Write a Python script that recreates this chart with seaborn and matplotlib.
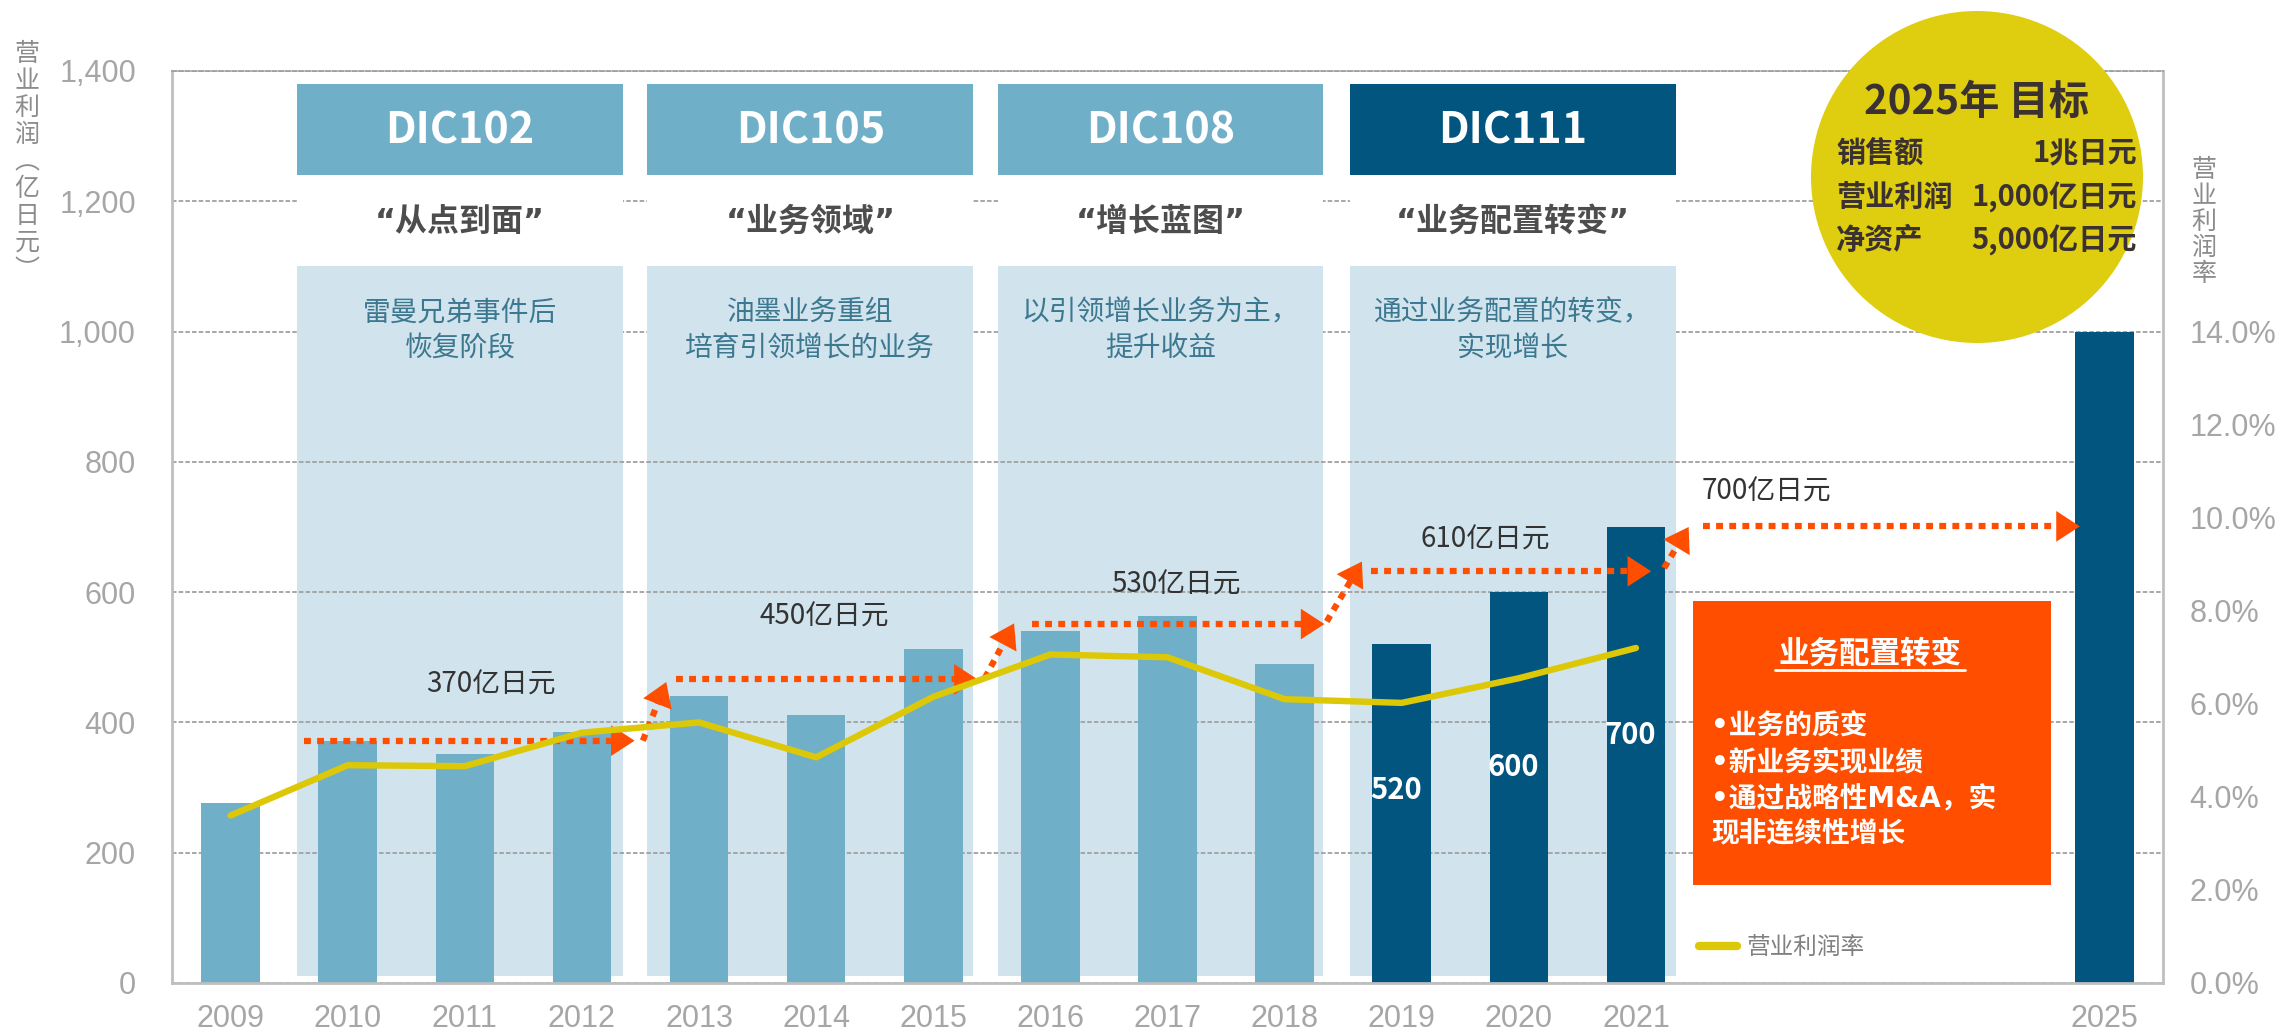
import pandas as pd
import seaborn as sns
import matplotlib.pyplot as plt
from matplotlib.patches import Rectangle, Ellipse
from matplotlib.lines import Line2D

# data
years = [2009, 2010, 2011, 2012, 2013, 2014, 2015, 2016, 2017, 2018, 2019, 2020, 2021, 2025]
profit = [277, 372, 351, 385, 441, 412, 512, 541, 564, 490, 520, 600, 700, 1000]
phase = ['past'] * 10 + ['new'] * 4

rate_years = [2009, 2010, 2011, 2012, 2013, 2014, 2015, 2016, 2017, 2018, 2019, 2020, 2021]
rate = [3.6, 4.68, 4.66, 5.38, 5.6, 4.85, 6.15, 7.06, 7.0, 6.1, 6.02, 6.55, 7.2]

label_years = [2019, 2020, 2021]
label_y = [296, 331, 380]

plan_names = ['DIC102', 'DIC105', 'DIC108', 'DIC111']
plan_quotes = ['“从点到面”', '“业务领域”', '“增长蓝图”', '“业务配置转变”']
plan_notes = ['雷曼兄弟事件后\n恢复阶段', '油墨业务重组\n培育引领增长的业务',
              '以引领增长业务为主，\n提升收益', '通过业务配置的转变，\n实现增长']
plan_left = [2009.57, 2012.56, 2015.55, 2018.56]
plan_width = 2.78

step_x0 = [2009.63, 2012.80, 2015.84, 2018.74, 2021.57]
step_x1 = [2012.45, 2015.38, 2018.34, 2021.13, 2024.79]
step_y = [372, 466, 551, 632, 701]
step_text = ['370亿日元', '450亿日元', '530亿日元', '610亿日元', '700亿日元']
step_text_x = [2011.22, 2014.07, 2017.07, 2019.71, 2022.11]
step_text_y = [458, 563, 612, 681, 755]
jump_x0 = [2012.52, 2015.44, 2018.36, 2021.24]
jump_y0 = [372, 468, 555, 637]
jump_x1 = [2012.72, 2015.69, 2018.66, 2021.45]
jump_y1 = [462, 552, 647, 700]

box_lines = ['•业务的质变', '•新业务实现业绩', '•通过战略性M&A，实', '现非连续性增长']
box_line_y = [393, 337, 284, 230]

goal_rows = [('销售额', '1兆日元'), ('营业利润', '1,000亿日元'), ('净资产', '5,000亿日元')]

LIGHT = '#70AFC8'
DARK = '#01557F'
PALE = '#D1E4ED'
ORANGE = '#FF4E00'
YELLOW = '#DCC806'
GOLD = '#DFCD10'
GREY = '#A6A6A6'
CJK = ['Noto Sans CJK SC', 'DejaVu Sans']
MIX = ['DejaVu Sans', 'Noto Sans CJK SC']

sns.set_style("white")
plt.rcParams['font.family'] = ['Liberation Sans', 'Noto Sans CJK SC']

fig = plt.figure(figsize=(22.83, 10.36), dpi=100)
ax = fig.add_axes([172 / 2283, 53 / 1036, (2163 - 172) / 2283, (983 - 71) / 1036])

df = pd.DataFrame({'year': years, 'profit': profit, 'phase': phase})
sns.barplot(data=df, x='year', y='profit', hue='phase', palette={'past': LIGHT, 'new': DARK},
            native_scale=True, width=0.5, dodge=False, saturation=1, errorbar=None,
            legend=False, linewidth=0, zorder=2, ax=ax)

ax.set_xlim(2008.5, 2025.5)
ax.set_ylim(0, 1400)
ax.set_xticks(years)
ax.set_xticklabels([str(y) for y in years])
ax.set_yticks(range(0, 1401, 200))
ax.set_yticklabels([f'{v:,}' for v in range(0, 1401, 200)])
ax.set_xlabel('')
ax.set_ylabel('')
ax.tick_params(axis='y', length=0, pad=26, labelsize=22, labelcolor=GREY)
ax.tick_params(axis='x', length=0, pad=15, labelsize=22, labelcolor=GREY)
ax.set_axisbelow(True)
ax.yaxis.grid(True, color='#A0A0A0', linestyle=(0, (2.5, 1.2)), linewidth=1.3)
ax.xaxis.grid(False)
for side in ['left', 'bottom', 'right']:
    ax.spines[side].set_color('#BFBFBF')
    ax.spines[side].set_linewidth(2)
ax.spines['top'].set_color('#A0A0A0')
ax.spines['top'].set_linestyle((0, (2.5, 1.2)))
ax.spines['top'].set_linewidth(1.3)

# plan columns
for i in range(4):
    x0 = plan_left[i]
    xc = x0 + plan_width / 2
    ax.add_patch(Rectangle((x0, 11), plan_width, 1089, fc=PALE, ec='none', zorder=0.2))
    ax.add_patch(Rectangle((x0, 900), plan_width, 200, fc=PALE, ec='none', zorder=0.7))
    ax.add_patch(Rectangle((x0, 1100), plan_width, 140, fc='white', ec='none', zorder=0.7))
    ax.add_patch(Rectangle((x0, 1240), plan_width, 140, fc=DARK if i == 3 else LIGHT,
                           ec='none', zorder=0.7))
    ax.text(xc, 1309, plan_names[i], ha='center', va='center', color='white',
            fontsize=31, fontweight='bold', family=CJK)
    ax.text(xc, 1168, plan_quotes[i], ha='center', va='center', color='#4D4D4D',
            fontsize=23, fontweight='bold', family=MIX)
    ax.text(xc, 1002, plan_notes[i], ha='center', va='center', color='#3C7890',
            fontsize=20, linespacing=1.25, family=CJK)

# dotted step arrows
dots = (0, (1.1, 1.0))
head = '-|>,head_length=1.0,head_width=0.65'
for i in range(5):
    ax.plot([step_x0[i], step_x1[i] - 0.1], [step_y[i], step_y[i]], color=ORANGE, lw=4.5,
            linestyle=dots, dash_capstyle='butt', zorder=3)
    ax.annotate('', xy=(step_x1[i], step_y[i]), xytext=(step_x1[i] - 0.2, step_y[i]),
                arrowprops=dict(arrowstyle=head, mutation_scale=17, lw=0, color=ORANGE,
                                shrinkA=0, shrinkB=0), zorder=3)
    ax.text(step_text_x[i], step_text_y[i], step_text[i], ha='center', va='center',
            fontsize=20, color='#333333', family=CJK, zorder=4)
for i in range(4):
    dx = jump_x1[i] - jump_x0[i]
    dy = jump_y1[i] - jump_y0[i]
    ax.plot([jump_x0[i], jump_x0[i] + 0.8 * dx], [jump_y0[i], jump_y0[i] + 0.8 * dy],
            color=ORANGE, lw=4.5, linestyle=dots, dash_capstyle='butt', zorder=3)
    ax.annotate('', xy=(jump_x1[i], jump_y1[i]),
                xytext=(jump_x1[i] - 0.3 * dx, jump_y1[i] - 0.3 * dy),
                arrowprops=dict(arrowstyle=head, mutation_scale=17, lw=0, color=ORANGE,
                                shrinkA=0, shrinkB=0), zorder=3)

# values inside the dark bars
for yr, ly in zip(label_years, label_y):
    ax.text(yr - 0.05, ly, str(profit[years.index(yr)]), ha='center', va='center',
            color='white', fontsize=21, fontweight='bold', family=CJK, zorder=4)

# orange box
ax.add_patch(Rectangle((2021.49, 150), 3.05, 436, fc=ORANGE, ec='none', zorder=3))
ax.text(2023.0, 506, '业务配置转变', ha='center', va='center', color='white',
        fontsize=22, fontweight='bold', family=CJK, zorder=4)
ax.plot([2022.19, 2023.81], [481, 481], color='white', lw=2, zorder=4)
for line, ly in zip(box_lines, box_line_y):
    ax.text(2021.64, ly, line, ha='left', va='center', color='white',
            fontsize=20, fontweight='bold', family=MIX, zorder=4)

# margin line on the right axis
ax2 = ax.twinx()
sns.lineplot(x=rate_years, y=rate, ax=ax2, color=YELLOW, lw=4.6, legend=False)
ax2.set_ylim(0, 19.6)
ax2.set_yticks(range(0, 15, 2))
ax2.set_yticklabels([f'{v:.1f}%' for v in range(0, 15, 2)])
ax2.set_ylabel('')
ax2.tick_params(axis='y', length=0, pad=19, labelsize=22, labelcolor=GREY)
for side in ax2.spines:
    ax2.spines[side].set_visible(False)

fig.legend(handles=[Line2D([0], [0], color=YELLOW, lw=6)], labels=['营业利润率'],
           loc='center left', bbox_to_anchor=(1699 / 2283, 88 / 1036), frameon=False,
           borderpad=0, borderaxespad=0, handlelength=1.6, handletextpad=0.4,
           prop={'family': CJK, 'size': 17}, labelcolor='#808080')

# axis titles as vertical text
fig.text(27 / 2283, 1 - 162 / 1036, '\n'.join('营业利润︵亿日元︶'), ha='center', va='center',
         fontsize=18, linespacing=1.05, color='#8C8C8C', family=CJK)
fig.text(2204 / 2283, 1 - 222 / 1036, '\n'.join('营业利润率'), ha='center', va='center',
         fontsize=18, linespacing=1.0, color='#8C8C8C', family=CJK)

# 2025 goal circle
fig.add_artist(Ellipse((1977 / 2283, 1 - 177 / 1036), 332 / 2283, 332 / 1036,
                       transform=fig.transFigure, fc=GOLD, ec='none', zorder=10))
fig.text(1977 / 2283, 1 - 102 / 1036, '2025年 目标', ha='center', va='center',
         fontsize=29, fontweight='bold', color='#3B3131', family=CJK, zorder=11)
for (name, val), py in zip(goal_rows, [153, 197, 240]):
    fig.text(1836 / 2283, 1 - py / 1036, name, ha='left', va='center', fontsize=21,
             fontweight='bold', color='#3B3131', family=CJK, zorder=11)
    fig.text(2137 / 2283, 1 - py / 1036, val, ha='right', va='center', fontsize=21,
             fontweight='bold', color='#3B3131', family=CJK, zorder=11)

fig.savefig('out.png', dpi=100)
